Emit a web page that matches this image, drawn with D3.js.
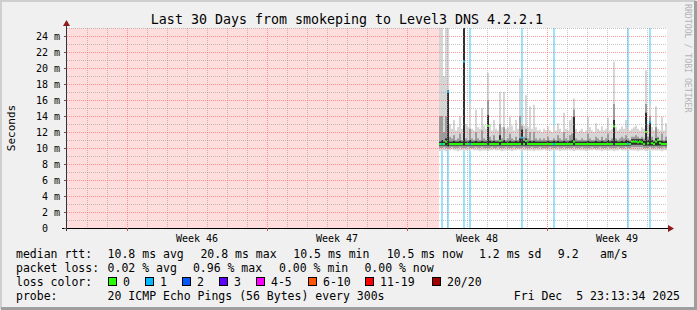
<!DOCTYPE html>
<html>
<head>
<meta charset="utf-8">
<script src="https://cdn.jsdelivr.net/npm/d3@7"></script>
<style>
  body { margin: 0; background: #f0f0f0; }
  text { font-family: "DejaVu Sans Mono", monospace; white-space: pre; }
</style>
</head>
<body>
<div id="chart"></div>
<script>
const title = "Last 30 Days from smokeping to Level3 DNS 4.2.2.1"
const rangeStart = new Date(2025, 10, 7)
const rangeEnd = new Date(2025, 11, 7)
// first measured column; everything before it is unknown (pink)
const dataStart = new Date(2025, 10, 25, 14, 24)
const columnHours = 2.4
const yTicks = [0, 2, 4, 6, 8, 10, 12, 14, 16, 18, 20, 22, 24]

// smoke, in ms, one value per column
const smokeLo = [
  9.6, 9.7, 9.7, 9.6, 9.7, 9.7, 9.8, 9.7, 9.7, 9.6,
  9.7, 9.7, 9.6, 9.7, 9.7, 9.7, 9.8, 9.7, 9.7, 9.7,
  9.6, 9.7, 9.7, 9.7, 9.6, 9.7, 9.7, 9.8, 9.7, 9.7,
  9.7, 9.6, 9.7, 9.7, 9.7, 9.7, 9.6, 9.7, 9.7, 9.8,
  9.7, 9.6, 9.7, 9.7, 9.7, 9.7, 9.7, 9.6, 9.7, 9.7,
  9.7, 9.7, 9.8, 9.7, 9.7, 9.6, 9.7, 9.7, 9.7, 9.7,
  9.6, 9.7, 9.7, 9.7, 9.8, 9.7, 9.7, 9.6, 9.7, 9.7,
  9.7, 9.7, 9.7, 9.6, 9.7, 9.7, 9.7, 9.8, 9.7, 9.7,
  9.7, 9.6, 9.7, 9.7, 9.7, 9.7, 9.7, 9.6, 9.7, 9.7,
  9.8, 9.7, 9.7, 9.7, 9.6, 9.7, 9.7, 9.7, 9.7, 9.6,
  9.7, 9.7, 9.7, 9.6, 9.7, 9.6, 9.7, 9.7, 9.7, 9.7,
  9.7, 9.6, 9.7, 9.7
]
const smokeHi = [
  26, 26, 19.0, 26, 26, 13.0, 12.4, 13.5, 12.2, 12.6,
  14.0, 12.4, 26, 13.0, 12.6, 15.6, 12.4, 12.2, 14.8, 12.6,
  12.4, 15.0, 12.8, 12.4, 19.4, 13.0, 12.2, 13.5, 12.4, 12.2,
  17.0, 12.6, 17.0, 12.4, 12.6, 13.9, 12.8, 12.2, 13.5, 12.4,
  18.7, 13.2, 12.8, 16.6, 12.6, 15.2, 12.4, 15.4, 12.6, 12.2,
  12.3, 12.0, 12.4, 12.2, 12.7, 12.2, 12.0, 12.8, 12.2, 13.1,
  12.4, 12.0, 14.4, 12.4, 12.2, 13.5, 13.9, 16.2, 12.4, 12.0,
  12.2, 12.4, 12.0, 12.2, 13.9, 12.6, 12.2, 12.0, 13.1, 12.4,
  12.2, 12.7, 12.2, 12.4, 13.8, 12.2, 12.4, 20.8, 12.6, 12.2,
  12.4, 12.7, 12.4, 13.5, 12.6, 12.2, 12.4, 12.6, 12.8, 12.4,
  12.2, 12.6, 12.4, 19.7, 13.0, 15.4, 12.6, 12.2, 15.2, 12.4,
  12.2, 13.9, 12.2, 13.1
]
const bandLo = [
  10.0, 10.0, 10.1, 10.0, 9.9, 10.0, 10.1, 10.0, 10.0, 10.0,
  10.1, 10.0, 10.0, 10.0, 10.1, 10.0, 10.0, 10.0, 10.1, 10.0,
  10.0, 10.1, 10.0, 10.0, 10.0, 10.0, 10.1, 10.0, 10.0, 10.1,
  10.0, 10.0, 10.0, 10.1, 10.0, 10.0, 10.0, 10.1, 10.0, 10.0,
  10.0, 10.0, 10.1, 10.0, 10.0, 10.0, 10.1, 10.0, 10.0, 10.0,
  10.1, 10.0, 10.0, 10.0, 10.0, 10.1, 10.0, 10.0, 10.0, 10.1,
  10.0, 10.0, 10.1, 10.0, 10.0, 10.0, 10.0, 10.1, 10.0, 10.0,
  10.0, 10.1, 10.0, 10.0, 10.0, 10.0, 10.1, 10.0, 10.0, 10.0,
  10.1, 10.0, 10.0, 10.0, 10.1, 10.0, 10.0, 10.0, 10.0, 10.1,
  10.0, 10.0, 10.0, 10.1, 10.0, 10.0, 10.1, 10.1, 10.1, 10.1,
  10.1, 10.1, 10.0, 10.0, 10.0, 10.1, 10.0, 10.0, 10.1, 10.0,
  10.0, 10.0, 10.1, 10.0
]
const bandHi = [
  14.0, 14.0, 12.0, 14.0, 16.0, 11.4, 11.2, 11.6, 11.0, 11.2,
  11.8, 11.0, 24.0, 11.2, 11.0, 12.4, 11.2, 11.0, 12.0, 11.2,
  11.0, 12.2, 11.2, 11.0, 16.0, 11.4, 11.0, 11.6, 11.0, 11.0,
  13.0, 11.2, 12.6, 11.0, 11.2, 11.8, 11.2, 11.0, 11.4, 11.0,
  14.0, 12.8, 11.4, 12.4, 11.2, 12.0, 11.0, 12.0, 11.2, 11.0,
  11.2, 11.0, 11.2, 11.0, 11.4, 11.0, 11.0, 11.2, 11.0, 11.6,
  11.2, 11.0, 12.0, 11.2, 11.0, 11.6, 11.8, 14.8, 11.2, 11.0,
  11.0, 11.2, 11.0, 11.0, 11.8, 11.2, 11.0, 11.0, 11.4, 11.2,
  11.0, 11.4, 11.0, 11.2, 11.8, 11.0, 11.2, 15.5, 11.2, 11.0,
  11.2, 11.4, 11.2, 11.6, 11.2, 11.0, 11.4, 11.4, 11.6, 11.4,
  11.2, 11.4, 11.2, 15.5, 11.4, 14.0, 11.4, 11.0, 12.6, 11.4,
  11.0, 11.8, 11.0, 11.4
]
const coreLo = [
  10.3, 10.3, 10.3, 10.3, 10.2, 10.3, 10.3, 10.3, 10.3, 10.3,
  10.3, 10.3, 10.3, 10.3, 10.3, 10.3, 10.3, 10.3, 10.3, 10.3,
  10.3, 10.3, 10.3, 10.3, 10.3, 10.3, 10.3, 10.3, 10.3, 10.3,
  10.3, 10.3, 10.3, 10.3, 10.3, 10.3, 10.3, 10.3, 10.3, 10.3,
  10.3, 10.3, 10.3, 10.3, 10.3, 10.3, 10.3, 10.3, 10.3, 10.3,
  10.3, 10.3, 10.3, 10.3, 10.3, 10.3, 10.3, 10.3, 10.3, 10.3,
  10.3, 10.3, 10.3, 10.3, 10.3, 10.3, 10.3, 10.3, 10.3, 10.3,
  10.3, 10.3, 10.3, 10.3, 10.3, 10.3, 10.3, 10.3, 10.3, 10.3,
  10.3, 10.3, 10.3, 10.3, 10.3, 10.3, 10.3, 10.3, 10.3, 10.3,
  10.3, 10.3, 10.3, 10.3, 10.3, 10.3, 10.4, 10.4, 10.4, 10.4,
  10.4, 10.4, 10.3, 10.3, 10.3, 10.3, 10.3, 10.3, 10.3, 10.3,
  10.3, 10.3, 10.3, 10.3
]
const coreHi = [
  10.8, 11.0, 10.8, 11.2, 17.2, 10.8, 10.8, 10.9, 10.8, 10.8,
  10.9, 10.8, 26, 10.8, 10.8, 11.0, 10.8, 10.8, 10.9, 10.8,
  10.8, 10.9, 10.8, 10.8, 14.1, 10.9, 10.8, 10.9, 10.8, 10.8,
  11.6, 10.8, 11.0, 10.8, 10.8, 10.9, 10.8, 10.8, 10.9, 10.8,
  11.2, 12.3, 10.9, 11.2, 10.8, 10.9, 10.8, 10.9, 10.8, 10.8,
  10.8, 10.8, 10.8, 10.8, 10.9, 10.8, 10.8, 10.9, 10.8, 10.9,
  10.8, 10.8, 10.9, 10.8, 10.8, 10.9, 11.0, 13.9, 10.8, 10.8,
  10.8, 10.8, 10.8, 10.8, 10.9, 10.8, 10.8, 10.8, 10.9, 10.8,
  10.8, 10.9, 10.8, 10.8, 11.0, 10.8, 10.9, 13.5, 10.9, 10.8,
  10.8, 10.9, 10.8, 11.0, 10.9, 10.8, 11.1, 11.1, 11.1, 11.1,
  11.1, 11.1, 10.9, 14.4, 11.0, 13.3, 11.0, 10.8, 11.2, 11.2,
  10.9, 10.9, 10.8, 10.9
]
const median = [
  10.5, 10.5, 10.5, 10.8, 17.0, 10.5, 10.5, 10.5, 10.5, 10.5,
  10.5, 10.5, 20.8, 10.5, 10.5, 10.5, 10.5, 10.5, 10.5, 10.5,
  10.5, 10.5, 10.5, 10.5, 12.75, 10.5, 10.5, 10.5, 10.5, 10.5,
  10.9, 10.5, 10.5, 10.5, 10.5, 10.5, 10.5, 10.5, 10.5, 10.5,
  10.5, 11.3, 10.5, 10.9, 10.5, 10.5, 10.5, 10.5, 10.5, 10.5,
  10.5, 10.5, 10.5, 10.5, 10.5, 10.5, 10.5, 10.5, 10.5, 10.5,
  10.5, 10.5, 10.5, 10.5, 10.5, 10.5, 10.5, 10.8, 10.5, 10.5,
  10.5, 10.5, 10.5, 10.5, 10.5, 10.5, 10.5, 10.5, 10.5, 10.5,
  10.5, 10.5, 10.5, 10.5, 10.5, 10.5, 10.5, 12.7, 10.5, 10.5,
  10.5, 10.5, 10.5, 10.5, 10.5, 10.5, 10.8, 10.8, 10.8, 10.7,
  10.8, 10.7, 10.5, 12.0, 10.6, 13.2, 10.6, 10.5, 10.8, 11.0,
  10.6, 10.5, 10.5, 10.5
]
// lost pings out of 20 per column
const loss = [
  0, 1, 0, 0, 1, 0, 0, 0, 0, 0,
  0, 0, 1, 0, 0, 1, 0, 0, 0, 0,
  0, 0, 0, 0, 0, 0, 0, 0, 0, 0,
  0, 0, 0, 0, 0, 0, 0, 0, 0, 0,
  0, 1, 0, 0, 0, 0, 0, 0, 0, 0,
  0, 0, 0, 0, 0, 0, 0, 1, 0, 0,
  0, 0, 0, 0, 0, 0, 0, 0, 0, 0,
  0, 0, 0, 0, 0, 0, 0, 0, 0, 0,
  0, 0, 0, 0, 0, 0, 0, 0, 0, 0,
  0, 0, 0, 0, 1, 0, 0, 0, 0, 0,
  0, 0, 0, 0, 0, 1, 0, 0, 0, 0,
  0, 0, 0, 0
]

const lossLabels = ["0", "1", "2", "3", "4-5", "6-10", "11-19", "20/20"]
const lossColors = ["#26ff00", "#00b8ff", "#0059ff", "#5e00ff", "#ff00ff", "#ff5500", "#ff0000", "#a00000"]
const lossMax = [0, 1, 2, 3, 5, 10, 19, 20]

const rttStats = ["10.8 ms avg", "20.8 ms max", "10.5 ms min", "10.5 ms now", "1.2 ms sd", "9.2", "am/s"]
const lossStats = ["0.02 % avg", "0.96 % max", "0.00 % min", "0.00 % now"]
const probeText = "20 ICMP Echo Pings (56 Bytes) every 300s"
const stampText = "Fri Dec  5 23:13:34 2025"

const W = 697, H = 310
const plot = { left: 67, right: 667, top: 28, bottom: 228 }

const svg = d3.select("#chart").append("svg")
  .attr("width", W)
  .attr("height", H)

// frame
svg.append("rect").attr("width", W).attr("height", H).attr("fill", "#f0f0f0")
svg.append("path").attr("d", `M1,${H - 1} V1 H${W - 1}`).attr("stroke", "#cfcfcf").attr("stroke-width", 2).attr("fill", "none")
svg.append("path").attr("d", `M1,${H - 1.5} H${W - 1.5} V1`).attr("stroke", "#9e9e9e").attr("stroke-width", 3).attr("fill", "none")

const x = d3.scaleTime([rangeStart, rangeEnd], [plot.left, plot.right])
const y = d3.scaleLinear([0, 25], [plot.bottom, plot.top])

svg.append("defs").append("clipPath").attr("id", "plotclip")
  .append("rect")
  .attr("x", plot.left).attr("y", plot.top)
  .attr("width", plot.right - plot.left).attr("height", plot.bottom - plot.top)

const g = svg.append("g").attr("clip-path", "url(#plotclip)")

g.append("rect")
  .attr("x", plot.left).attr("y", plot.top)
  .attr("width", plot.right - plot.left).attr("height", plot.bottom - plot.top)
  .attr("fill", "#ffffff")

// unknown data before the first sample
g.append("rect")
  .attr("x", x(rangeStart)).attr("y", plot.top)
  .attr("width", x(dataStart) - x(rangeStart)).attr("height", plot.bottom - plot.top)
  .attr("fill", "#ffdddd")

const cols = median.map((m, i) => {
  const t0 = d3.timeMinute.offset(dataStart, Math.round(i * columnHours * 60))
  const t1 = d3.timeMinute.offset(dataStart, Math.round((i + 1) * columnHours * 60))
  return {
    x0: x(t0), x1: x(t1),
    lo: smokeLo[i], hi: smokeHi[i],
    bLo: bandLo[i], bHi: bandHi[i],
    cLo: coreLo[i], cHi: coreHi[i],
    med: m, loss: loss[i]
  }
})

const lossColor = (n) => lossColors[lossMax.findIndex(v => n <= v)]

// loss background bars
g.selectAll("rect.lossbar")
  .data(cols.filter(d => d.loss > 0))
  .join("rect")
  .attr("class", "lossbar")
  .attr("x", d => d.x0).attr("width", d => d.x1 - d.x0)
  .attr("y", plot.top).attr("height", plot.bottom - plot.top)
  .attr("fill", d => d3.interpolateRgb(lossColor(d.loss), "#ffffff")(0.6))

const smokeLayers = [
  { lo: "lo", hi: "hi", color: "#d6d6d6" },
  { lo: "bLo", hi: "bHi", color: "#9c9c9c" },
  { lo: "cLo", hi: "cHi", color: "#2e2e2e" }
]
smokeLayers.forEach((layer) => {
  g.append("g").selectAll("rect")
    .data(cols)
    .join("rect")
    .attr("x", d => d.x0).attr("width", d => d.x1 - d.x0)
    .attr("y", d => y(d[layer.hi]))
    .attr("height", d => y(d[layer.lo]) - y(d[layer.hi]))
    .attr("fill", layer.color)
})

// median, coloured by loss
g.append("g").selectAll("rect")
  .data(cols)
  .join("rect")
  .attr("x", d => d.x0).attr("width", d => d.x1 - d.x0)
  .attr("y", d => y(d.med) - 1).attr("height", 2)
  .attr("fill", d => lossColor(d.loss))

// grid on top, dotted
const grid = svg.append("g").attr("stroke-dasharray", "1,1").attr("shape-rendering", "crispEdges")
const mondays = d3.timeMonday.range(rangeStart, rangeEnd)
const days = d3.timeDay.range(d3.timeDay.offset(rangeStart, 1), rangeEnd)
  .filter(d => d.getDay() !== 1)
grid.selectAll("line.vminor").data(days).join("line")
  .attr("x1", d => Math.round(x(d)) + 0.5).attr("x2", d => Math.round(x(d)) + 0.5)
  .attr("y1", plot.top).attr("y2", plot.bottom)
  .attr("stroke", "rgba(150,150,150,0.55)")
const minorY = d3.range(1, 26, 2)
grid.selectAll("line.hminor").data(minorY).join("line")
  .attr("x1", plot.left).attr("x2", plot.right)
  .attr("y1", d => Math.round(y(d)) + 0.5).attr("y2", d => Math.round(y(d)) + 0.5)
  .attr("stroke", "rgba(150,150,150,0.55)")
grid.selectAll("line.vmajor").data(mondays).join("line")
  .attr("x1", d => Math.round(x(d)) + 0.5).attr("x2", d => Math.round(x(d)) + 0.5)
  .attr("y1", plot.top).attr("y2", plot.bottom)
  .attr("stroke", "rgba(255,90,90,0.6)")
grid.selectAll("line.hmajor").data(yTicks.filter(v => v > 0)).join("line")
  .attr("x1", plot.left).attr("x2", plot.right)
  .attr("y1", d => Math.round(y(d)) + 0.5).attr("y2", d => Math.round(y(d)) + 0.5)
  .attr("stroke", "rgba(255,90,90,0.6)")

// axes
const axis = svg.append("g").attr("shape-rendering", "crispEdges")
axis.append("line")
  .attr("x1", plot.left - 0.5).attr("x2", plot.left - 0.5)
  .attr("y1", plot.bottom + 3).attr("y2", plot.top - 2)
  .attr("stroke", "#333")
axis.append("line")
  .attr("x1", plot.left - 5).attr("x2", plot.right + 2)
  .attr("y1", plot.bottom + 0.5).attr("y2", plot.bottom + 0.5)
  .attr("stroke", "#000")
axis.selectAll("line.ytick").data(yTicks).join("line")
  .attr("x1", plot.left - 3).attr("x2", plot.left)
  .attr("y1", d => Math.round(y(d)) + 0.5).attr("y2", d => Math.round(y(d)) + 0.5)
  .attr("stroke", "#555")
axis.selectAll("line.xtick").data(mondays).join("line")
  .attr("x1", d => Math.round(x(d)) + 0.5).attr("x2", d => Math.round(x(d)) + 0.5)
  .attr("y1", plot.bottom).attr("y2", plot.bottom + 3)
  .attr("stroke", "#c05050")
svg.append("path")
  .attr("d", `M${plot.left - 4},${plot.top - 2} L${plot.left - 0.5},${plot.top - 8} L${plot.left + 3},${plot.top - 2} Z`)
  .attr("fill", "#8b1a1a")
svg.append("path")
  .attr("d", `M${plot.right + 1},${plot.bottom - 3} L${plot.right + 7},${plot.bottom + 0.5} L${plot.right + 1},${plot.bottom + 4} Z`)
  .attr("fill", "#8b1a1a")

// y labels
svg.selectAll("text.ylab").data(yTicks).join("text")
  .attr("x", 48).attr("y", d => y(d)).attr("dy", "0.35em")
  .attr("text-anchor", "end")
  .attr("font-size", 10)
  .attr("fill", "#000")
  .text(d => d)
svg.selectAll("text.yunit").data(yTicks.filter(v => v > 0)).join("text")
  .attr("x", 54).attr("y", d => y(d)).attr("dy", "0.35em")
  .attr("font-size", 10)
  .attr("fill", "#000")
  .text("m")

// week labels, centred on the week
svg.selectAll("text.week").data(mondays).join("text")
  .attr("x", d => x(d3.timeHour.offset(d, 84)))
  .attr("y", 238).attr("dy", "0.35em")
  .attr("text-anchor", "middle")
  .attr("font-size", 10)
  .text(d => "Week " + d3.timeFormat("%V")(d))

svg.append("text")
  .attr("transform", "translate(11,128) rotate(-90)")
  .attr("text-anchor", "middle").attr("dy", "0.35em")
  .attr("font-size", 11)
  .text("Seconds")

svg.append("text")
  .attr("x", 347).attr("y", 19).attr("dy", "0.35em")
  .attr("text-anchor", "middle")
  .attr("font-size", 13.3)
  .text(title)

svg.append("text")
  .attr("transform", "translate(688,4) rotate(90)")
  .attr("dy", "0.35em")
  .attr("font-size", 8.2)
  .attr("fill", "#b4b4b4")
  .text("RRDTOOL / TOBI OETIKER")

// legend
const legFont = 11.5
const row = [254, 268, 282, 296]
const legend = svg.append("g").attr("font-size", legFont).attr("fill", "#000")
const putText = (tx, ty, s, anchor) => legend.append("text")
  .attr("x", tx).attr("y", ty).attr("dy", "0.35em")
  .attr("text-anchor", anchor || "start")
  .text(s)

putText(16, row[0], "median rtt:")
const rttX = [107.6, 200.4, 293.3, 386.7, 479, 557.8, 600]
rttStats.forEach((s, i) => putText(rttX[i], row[0], s))

putText(16, row[1], "packet loss:")
const lossX = [107.6, 192.9, 279, 364.4]
lossStats.forEach((s, i) => putText(lossX[i], row[1], s))

putText(16, row[2], "loss color:")
const boxX = [108, 145, 182, 219, 256, 308, 365, 432]
lossLabels.forEach((s, i) => {
  legend.append("rect")
    .attr("x", boxX[i] + 0.5).attr("y", row[2] - 4.5)
    .attr("width", 8).attr("height", 8)
    .attr("fill", lossColors[i])
    .attr("stroke", "#000").attr("stroke-width", 1)
  putText(boxX[i] + 15, row[2], s)
})

putText(16, row[3], "probe:")
putText(107.6, row[3], probeText)
putText(680, row[3], stampText, "end")
</script>
</body>
</html>
